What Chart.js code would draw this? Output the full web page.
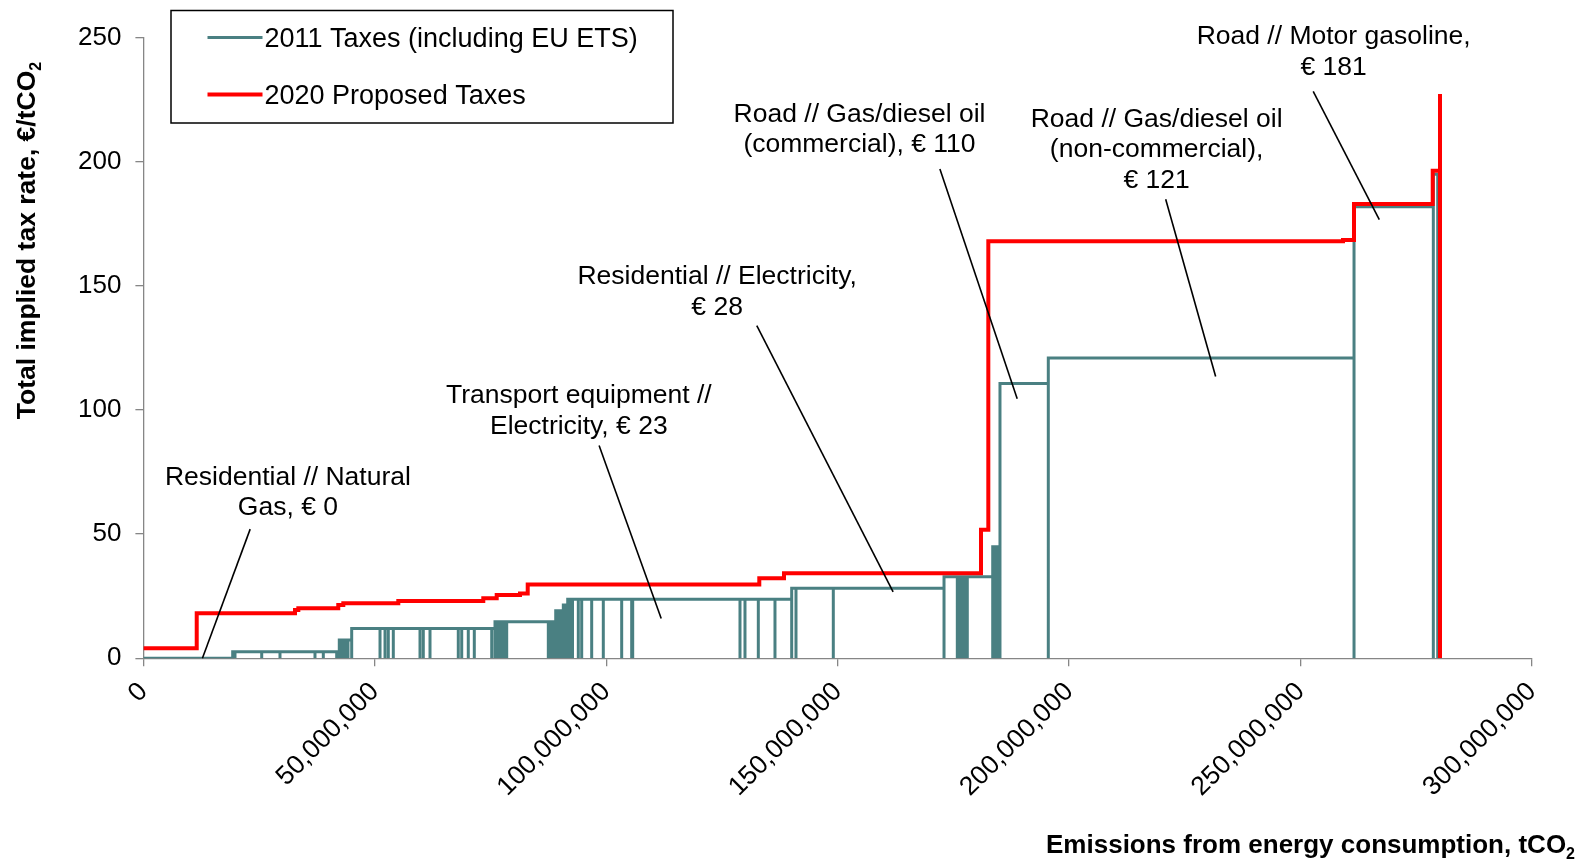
<!DOCTYPE html>
<html><head><meta charset="utf-8">
<script src="https://cdn.jsdelivr.net/npm/chart.js@4/dist/chart.umd.min.js"></script>
<style>html,body{margin:0;padding:0;background:#fff;} #wrap{width:1595px;height:861px;}</style>
</head><body><div id="wrap"><canvas id="c" width="1595" height="861"></canvas></div>
<script>
// ---- DATA (emissions in million tCO2, tax in €/tCO2) ----
// 2011 taxes: each category ends at cumulative emission seg2011End[i] with rate seg2011Rate[i]
const seg2011End = [19.29, 19.79, 25.56, 29.51, 37.07, 38.87, 41.76, 42.32,
  42.91, 43.55, 44.20, 45.00,
  51.12, 52.20, 52.91, 53.99, 59.76, 60.47, 61.92, 68.03, 68.77, 70.19, 71.49, 75.25, 75.96,
  76.61, 77.26, 77.91, 78.49, 87.48, 88.06, 88.49, 89.08,
  89.57, 90.11, 90.72, 91.19, 91.67,
  92.16, 92.70, 93.96, 94.69, 96.85, 99.36, 103.33, 105.49, 105.71, 128.89, 129.97, 132.85, 136.45, 140.06,
  140.99, 149.05, 172.97,
  175.84, 176.32, 176.85, 177.39, 178.00, 183.49,
  183.99, 184.53, 185.06,
  195.50, 261.55, 278.68, 279.63];
const seg2011Rate = [0, 2.6, 2.6, 2.6, 2.6, 2.6, 2.6, 2.6,
  7.3, 7.3, 7.3, 7.3,
  12.0, 12.0, 12.0, 12.0, 12.0, 12.0, 12.0, 12.0, 12.0, 12.0, 12.0, 12.0, 12.0,
  14.7, 14.7, 14.7, 14.7, 14.7, 14.7, 14.7, 14.7,
  19.1, 19.1, 19.1, 21.4, 21.4,
  23.7, 23.7, 23.7, 23.7, 23.7, 23.7, 23.7, 23.7, 23.7, 23.7, 23.7, 23.7, 23.7, 23.7,
  28.2, 28.2, 28.2,
  32.8, 32.8, 32.8, 32.8, 32.8, 32.8,
  44.9, 44.9, 44.9,
  110.7, 120.9, 181.9, 195.0];
// 2020 proposed taxes: rate steps to steps2020Y[i] at emission steps2020X[i]
const steps2020X = [0, 11.52, 32.75, 33.47, 42.10, 43.19, 55.07, 73.43, 76.33, 81.36, 83.03,
  133.06, 138.40, 180.96, 182.54, 259.17, 261.55, 278.55, 280.13, 280.13];
const steps2020Y = [4.0, 18.1, 19.4, 20.1, 21.4, 22.1, 23.0, 24.1, 25.5, 26.1, 29.7,
  32.2, 34.2, 51.7, 168.0, 168.5, 183.0, 196.4, 227.3, 0];
const xTickValues = [0, 50000000, 100000000, 150000000, 200000000, 250000000, 300000000];
const yTickValues = [0, 50, 100, 150, 200, 250];
const seriesNames = ['2011 Taxes (including EU ETS)', '2020 Proposed Taxes'];
const noteText = [
  ['Residential // Natural', 'Gas, € 0'],
  ['Transport equipment //', 'Electricity, € 23'],
  ['Residential // Electricity,', '€ 28'],
  ['Road // Gas/diesel oil', '(commercial), € 110'],
  ['Road // Gas/diesel oil', '(non-commercial),', '€ 121'],
  ['Road // Motor gasoline,', '€ 181']
];
// note anchor (million tCO2, €) and leader line from/to in data units
const noteAt = [[31.22, 73.4], [94.07, 106.2], [123.95, 154.1], [154.71, 219.7], [218.90, 217.6], [257.14, 250.8]];
const leaderFrom = [[23.07, 52.0], [98.45, 85.7], [132.52, 134.0], [172.08, 197.1], [220.86, 184.9], [252.73, 228.3]];
const leaderTo = [[12.75, 0], [111.87, 16.0], [161.97, 26.7], [188.78, 104.5], [231.65, 113.5], [267.01, 176.7]];

// ---- build datasets ----
const M = 1e6;
const teal = [];
let start = 0;
seg2011End.forEach((e, i) => {
  const r = seg2011Rate[i];
  teal.push({x: start * M, y: 0}, {x: start * M, y: r}, {x: e * M, y: r}, {x: e * M, y: 0});
  start = e;
});
const red = steps2020X.map((x, i) => ({x: x * M, y: steps2020Y[i]}));

const TEAL = '#4A8082', RED = '#FF0000', AXIS = '#868686';
const FONT = '"Liberation Sans", Arial, Helvetica, sans-serif';
const fmt = v => String(Math.round(v)).replace(/\B(?=(\d{3})+(?!\d))/g, ',');

function drawSubText(ctx, main, sub, x, y, size, align) {
  ctx.font = 'bold ' + size + 'px ' + FONT;
  const w1 = ctx.measureText(main).width;
  ctx.font = 'bold ' + Math.round(size * 0.62) + 'px ' + FONT;
  const w2 = ctx.measureText(sub).width;
  const total = w1 + w2;
  let sx = align === 'right' ? x - total : x - total / 2;
  ctx.textAlign = 'left';
  ctx.textBaseline = 'alphabetic';
  ctx.font = 'bold ' + size + 'px ' + FONT;
  ctx.fillText(main, sx, y);
  ctx.font = 'bold ' + Math.round(size * 0.62) + 'px ' + FONT;
  ctx.fillText(sub, sx + w1, y + size * 0.22);
}

const overlay = {
  id: 'overlay',
  afterDraw(chart) {
    const ctx = chart.ctx, xs = chart.scales.x, ys = chart.scales.y;
    ctx.save();
    // leader lines
    ctx.strokeStyle = '#000';
    ctx.lineWidth = 1.6;
    leaderFrom.forEach((f, i) => {
      const t = leaderTo[i];
      ctx.beginPath();
      ctx.moveTo(xs.getPixelForValue(f[0] * M), ys.getPixelForValue(f[1]));
      ctx.lineTo(xs.getPixelForValue(t[0] * M), ys.getPixelForValue(t[1]));
      ctx.stroke();
    });
    // notes
    ctx.fillStyle = '#000';
    ctx.font = '26.5px ' + FONT;
    ctx.textAlign = 'center';
    ctx.textBaseline = 'middle';
    noteText.forEach((lines, i) => {
      const cx = xs.getPixelForValue(noteAt[i][0] * M);
      const cy = ys.getPixelForValue(noteAt[i][1]) + 1.5;
      lines.forEach((t, j) => ctx.fillText(t, cx, cy + j * 30.5));
    });
    // legend
    ctx.strokeStyle = '#000';
    ctx.lineWidth = 1.5;
    ctx.strokeRect(171, 10.5, 502, 112.5);
    const rows = [[TEAL, 3, 37.6], [RED, 4, 94.6]];
    rows.forEach((r, i) => {
      ctx.strokeStyle = r[0];
      ctx.lineWidth = r[1];
      ctx.beginPath();
      ctx.moveTo(207.5, r[2]);
      ctx.lineTo(262.5, r[2]);
      ctx.stroke();
      ctx.fillStyle = '#000';
      ctx.font = '27px ' + FONT;
      ctx.textAlign = 'left';
      ctx.textBaseline = 'middle';
      ctx.fillText(seriesNames[i], 264.5, r[2] + 2);
    });
    // axis titles
    ctx.fillStyle = '#000';
    drawSubText(ctx, 'Emissions from energy consumption, tCO', '2', 1575, 853, 26, 'right');
    ctx.save();
    ctx.translate(35, 240.5);
    ctx.rotate(-Math.PI / 2);
    drawSubText(ctx, 'Total implied tax rate, €/tCO', '2', 0, 0, 26.5, 'center');
    ctx.restore();
    ctx.restore();
  }
};

new Chart(document.getElementById('c'), {
  type: 'scatter',
  data: {
    datasets: [
      {label: seriesNames[1], data: red, showLine: true, stepped: 'before', borderColor: RED, borderWidth: 4,
       pointRadius: 0, fill: false, order: 0, borderJoinStyle: 'miter', borderCapStyle: 'butt'},
      {label: seriesNames[0], data: teal, showLine: true, borderColor: TEAL, borderWidth: 3,
       pointRadius: 0, fill: false, order: 1, tension: 0, borderJoinStyle: 'miter'}
    ]
  },
  options: {
    responsive: false,
    animation: false,
    devicePixelRatio: 1,
    layout: {padding: {left: 0, right: 63, top: 37.6, bottom: 0}},
    plugins: {legend: {display: false}, tooltip: {enabled: false}},
    scales: {
      x: {
        type: 'linear', min: 0, max: 300000000,
        afterBuildTicks: s => { s.ticks = xTickValues.map(v => ({value: v})); },
        afterFit: s => { s.height = 202.8; },
        ticks: {minRotation: 45, maxRotation: 45, color: '#000', font: {family: FONT, size: 26.5},
                padding: 10, callback: v => fmt(v)},
        grid: {drawOnChartArea: false, drawTicks: true, tickLength: 8, color: AXIS, lineWidth: 1.3},
        border: {display: true, color: AXIS, width: 1.3}
      },
      y: {
        min: 0, max: 250,
        afterBuildTicks: s => { s.ticks = yTickValues.map(v => ({value: v})); },
        afterFit: s => { s.width = 143.4; },
        ticks: {color: '#000', font: {family: FONT, size: 26}, padding: 14},
        grid: {drawOnChartArea: false, drawTicks: true, tickLength: 8, color: AXIS, lineWidth: 1.3},
        border: {display: true, color: AXIS, width: 1.3}
      }
    }
  },
  plugins: [overlay]
});
</script>
</body></html>
